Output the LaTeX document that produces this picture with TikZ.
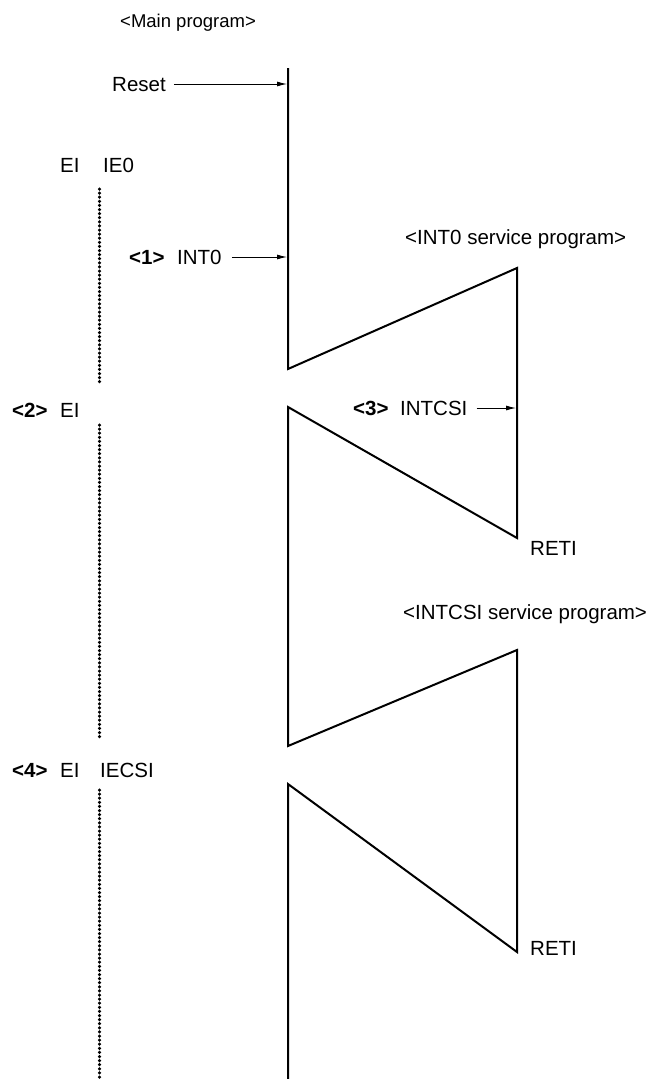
\documentclass[tikz,border=0pt]{standalone}
\usepackage{fontspec}
\setmainfont{Liberation Sans}
\usetikzlibrary{arrows.meta}
\begin{document}
\begin{tikzpicture}[x=1pt,y=-1pt,
  lbl/.style={anchor=base west,inner sep=0pt,font=\fontsize{20.5}{23}\selectfont},
  blbl/.style={lbl,font=\fontsize{20.5}{23}\selectfont\bfseries},
  flow/.style={line width=2pt,line join=miter},
  ptr/.style={line width=0.9pt,-{Latex[length=10pt,width=5pt]}},
  dots/.style={line width=3.5pt,line cap=round,dash pattern=on 0pt off 4.1pt}]
\useasboundingbox (0,0) rectangle (660,1079);
% flow path coordinates
\coordinate (m0) at (288,68);
\coordinate (m1) at (288,369);
\coordinate (s1) at (517,268);
\coordinate (s1b) at (517,538);
\coordinate (m2) at (288,407);
\coordinate (m3) at (288,746);
\coordinate (s2) at (517,650);
\coordinate (s2b) at (517,952);
\coordinate (m4) at (288,784);
\coordinate (m5) at (288,1079);
\draw[flow] (m0) -- (m1) -- (s1) -- (s1b) -- (m2) -- (m3) -- (s2) -- (s2b) -- (m4) -- (m5);
% texts
\node[lbl,font=\fontsize{18.5}{21}\selectfont] (tmain) at (120,27) {<Main program>};
\node[lbl] (treset) at (112,91) {Reset};
\node[lbl] (tei0) at (60,172) {EI};
\node[lbl] (tie0) at (103,172) {IE0};
\node[blbl] (n1) at (129,264) {<1>};
\node[lbl] (tint0) at (177,264) {INT0};
\node[lbl] (tsv0) at (405,244) {<INT0 service program>};
\node[blbl] (n2) at (12,417) {<2>};
\node[lbl] (tei2) at (60,417) {EI};
\node[blbl] (n3) at (353,415) {<3>};
\node[lbl] (tcsi) at (400,415) {INTCSI};
\node[lbl] (treti1) at (530,555) {RETI};
\node[lbl] (tsv1) at (403,619) {<INTCSI service program>};
\node[blbl] (n4) at (12,777) {<4>};
\node[lbl] (tei4) at (60,777) {EI};
\node[lbl] (tiecsi) at (100,777) {IECSI};
\node[lbl] (treti2) at (530,955) {RETI};
% arrow targets
\coordinate (aReset) at (287,84);
\coordinate (aInt0) at (287,257);
\coordinate (aCsi) at (516,408);
\draw[ptr] ([xshift=8pt]treset.east |- aReset) -- (aReset);
\draw[ptr] ([xshift=10pt]tint0.east |- aInt0) -- (aInt0);
\draw[ptr] ([xshift=9pt]tcsi.east |- aCsi) -- (aCsi);
% dotted lines
\coordinate (d1a) at (99.5,189);
\coordinate (d1b) at (99.5,382);
\coordinate (d2a) at (99.5,425);
\coordinate (d2b) at (99.5,739);
\coordinate (d3a) at (99.5,790);
\coordinate (d3b) at (99.5,1079);
\draw[dots] (d1a) -- (d1b);
\draw[dots] (d2a) -- (d2b);
\draw[dots] (d3a) -- (d3b);
\end{tikzpicture}
\end{document}
